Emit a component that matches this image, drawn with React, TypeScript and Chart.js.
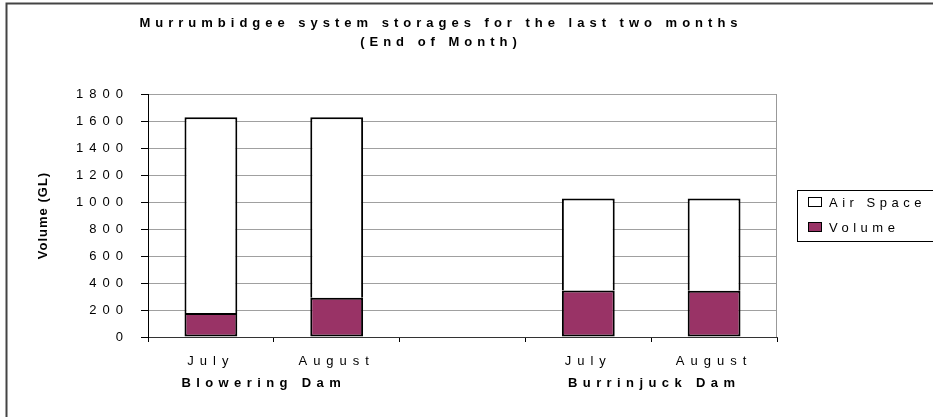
import React, { useEffect, useRef } from "react";
import { Chart, registerables } from "chart.js";

Chart.register(...registerables);

const categories = ["July", "August", "", "July", "August"];
const volumeValues = [178, 290, null, 345, 343];
const airSpaceValues = [1450, 1338, null, 681, 683];
const groupLabels = ["Blowering Dam", "Burrinjuck Dam"];
const titleLines = [
  "Murrumbidgee system storages for the last two months",
  "(End of Month)",
];
const yAxisTitle = "Volume (GL)";
const yMin = 0;
const yMax = 1800;
const yStep = 200;

const FONT = "'Liberation Sans', Arial, sans-serif";
const AXIS_SPACING = "6px";
const VOLUME_COLOR = "#993366";

const decorPlugin = {
  id: "decor",
  beforeDraw(chart: any) {
    const ctx = chart.ctx as CanvasRenderingContext2D;
    ctx.save();
    ctx.fillStyle = "#ffffff";
    ctx.fillRect(0, 0, chart.width, chart.height);
    ctx.restore();
    (ctx as any).letterSpacing = AXIS_SPACING;
  },
  afterDraw(chart: any) {
    const ctx = chart.ctx as CanvasRenderingContext2D;
    const area = chart.chartArea;
    const xs = chart.scales.x;
    ctx.save();
    // frame (top and left)
    ctx.strokeStyle = "#444";
    ctx.lineWidth = 2;
    ctx.beginPath();
    ctx.moveTo(940, 3.5);
    ctx.lineTo(6.5, 3.5);
    ctx.lineTo(6.5, 420);
    ctx.stroke();

    // plot right border
    ctx.strokeStyle = "#999";
    ctx.lineWidth = 1;
    ctx.beginPath();
    ctx.moveTo(Math.round(area.right) - 0.5, area.top);
    ctx.lineTo(Math.round(area.right) - 0.5, area.bottom);
    ctx.stroke();

    ctx.fillStyle = "#000";
    // title
    (ctx as any).letterSpacing = "5px";
    ctx.font = `bold 13px ${FONT}`;
    ctx.textAlign = "center";
    ctx.textBaseline = "middle";
    ctx.fillText(titleLines[0], 441, 23);
    ctx.fillText(titleLines[1], 441, 42);

    // group labels
    (ctx as any).letterSpacing = "5.4px";
    const p0 = xs.getPixelForValue(0);
    const p1 = xs.getPixelForValue(1);
    const p3 = xs.getPixelForValue(3);
    const p4 = xs.getPixelForValue(4);
    ctx.fillText(groupLabels[0], (p0 + p1) / 2 - 10, 383);
    ctx.fillText(groupLabels[1], (p3 + p4) / 2 + 3, 383);

    // legend
    ctx.strokeStyle = "#000";
    ctx.lineWidth = 1;
    ctx.strokeRect(797.5, 190.5, 150, 51);
    (ctx as any).letterSpacing = "4.5px";
    const items = chart.data.datasets.slice().reverse();
    items.forEach((ds: any, i: number) => {
      const cy = 202 + i * 25;
      ctx.fillStyle = ds.backgroundColor;
      ctx.fillRect(808, cy - 5, 14, 10);
      ctx.strokeStyle = "#000";
      ctx.strokeRect(808.5, cy - 4.5, 13, 9);
      ctx.fillStyle = "#000";
      ctx.font = `13px ${FONT}`;
      ctx.textAlign = "left";
      ctx.fillText(ds.label, 829, cy + 1);
    });

    // y axis title
    (ctx as any).letterSpacing = "1px";
    ctx.font = `bold 13px ${FONT}`;
    ctx.translate(43, (area.top + area.bottom) / 2);
    ctx.rotate(-Math.PI / 2);
    ctx.textAlign = "center";
    ctx.fillText(yAxisTitle, 0, 0);
    ctx.restore();
    (ctx as any).letterSpacing = "0px";
  },
};

export default function App() {
  const canvasRef = useRef<HTMLCanvasElement | null>(null);

  useEffect(() => {
    if (!canvasRef.current) return;
    Chart.defaults.font.family = FONT;
    const chart = new Chart(canvasRef.current, {
      type: "bar",
      data: {
        labels: categories,
        datasets: [
          {
            label: "Volume",
            data: volumeValues,
            backgroundColor: VOLUME_COLOR,
            borderColor: "#000",
            borderWidth: 2,
            borderSkipped: false,
          },
          {
            label: "Air Space",
            data: airSpaceValues,
            backgroundColor: "#ffffff",
            borderColor: "#000",
            borderWidth: 2,
            borderSkipped: "start",
          },
        ],
      },
      options: {
        animation: false,
        responsive: true,
        maintainAspectRatio: false,
        devicePixelRatio: 1,
        layout: { padding: { top: 94, right: 156, left: 0, bottom: 0 } },
        datasets: {
          bar: { categoryPercentage: 1, barPercentage: 0.42 },
        },
        plugins: {
          legend: { display: false },
          title: { display: false },
          tooltip: { enabled: false },
        },
        scales: {
          x: {
            stacked: true,
            offset: true,
            afterFit(s: any) {
              s.height = 80;
            },
            grid: {
              display: true,
              drawOnChartArea: false,
              offset: true,
              tickLength: 5,
              color: "#000",
            },
            border: { color: "#333", width: 1 },
            ticks: {
              color: "#000",
              font: { size: 13, family: FONT },
              padding: 12,
              maxRotation: 0,
              autoSkip: false,
            },
          },
          y: {
            stacked: true,
            min: yMin,
            max: yMax,
            afterFit(s: any) {
              s.width = 148;
            },
            grid: {
              color: "#a0a0a0",
              tickColor: "#000",
              tickLength: 7,
            },
            border: { color: "#000", width: 1 },
            ticks: {
              stepSize: yStep,
              color: "#000",
              font: { size: 13, family: FONT },
              padding: 12,
              callback: (v: any) => String(v),
            },
          },
        },
      },
      plugins: [decorPlugin],
    });
    return () => chart.destroy();
  }, []);

  return (
    <div
      style={{
        position: "fixed",
        left: 0,
        top: 0,
        width: 933,
        height: 417,
        background: "#fff",
      }}
    >
      <canvas ref={canvasRef} />
    </div>
  );
}
